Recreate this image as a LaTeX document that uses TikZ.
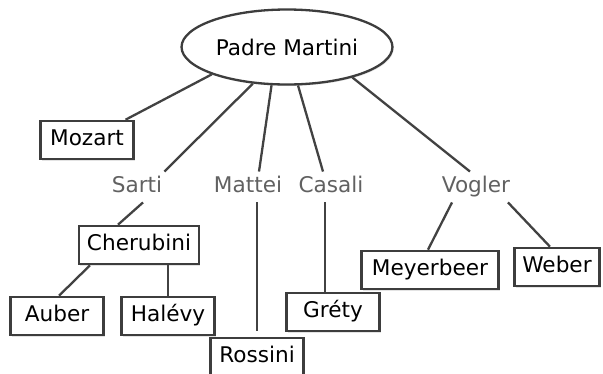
\documentclass[tikz,border=0pt]{standalone}
\usepackage{fontspec}
\setmainfont{DejaVu Sans}
\usetikzlibrary{shapes.geometric,shadows}

\begin{document}
\begin{tikzpicture}[
  x=1pt, y=-1pt,
  font=\fontsize{21.6}{25}\selectfont,
  composer/.style={rectangle, draw=black!76, line width=2.6pt, fill=white, text=black,
    minimum width=93pt, minimum height=38pt, inner xsep=8pt, inner ysep=0pt,
    text height=16pt, text depth=4.5pt,
    drop shadow={shadow xshift=1.2pt, shadow yshift=-1.5pt, opacity=0.22}},
  teacher/.style={inner xsep=2pt, inner ysep=5pt, text height=16pt, text depth=4.5pt, text=black!62},
  link/.style={draw=black!74, line width=2.3pt},
]
  \useasboundingbox (0,0) rectangle (603,373);
  % Root
  \node[ellipse, draw=black!76, line width=2.3pt, fill=white, minimum width=190pt, minimum height=75pt,
    drop shadow={shadow xshift=1.2pt, shadow yshift=-1.5pt, opacity=0.22}] (PM) at (287,47) {Padre Martini};
  % Pupils of the root
  \node[composer] (Mozart) at (87,140) {Mozart};
  \node[teacher] (Sarti)  at (137,187) {Sarti};
  \node[teacher] (Mattei) at (248,187) {Mattei};
  \node[teacher] (Casali) at (331,187) {Casali};
  \node[teacher] (Vogler) at (476,187) {Vogler};
  % Next generation
  \node[composer] (Cherubini) at (139,245) {Cherubini};
  \node[composer] (Auber)     at (57,316)  {Auber};
  \node[composer] (Halevy)    at (168,316) {Halévy};
  \node[composer] (Rossini)   at (257,357) {Rossini};
  \node[composer] (Grety)     at (333,312) {Gréty};
  \node[composer, minimum width=137pt] (Meyerbeer) at (430,270) {Meyerbeer};
  \node[composer, minimum width=84pt]  (Weber)     at (557,267) {Weber};
  % Connections from the root
  \draw[link] (PM.200) -- (Mozart);
  \draw[link] (PM.227) -- (Sarti.north east);
  \draw[link] (PM.248) -- ([xshift=11pt]Mattei.north);
  \draw[link] (PM.286) -- ([xshift=-8pt]Casali.north);
  \draw[link] (PM.335) -- ([xshift=-6pt]Vogler.north);
  % Connections below the teachers
  \draw[link] ([xshift=6pt]Sarti.south) -- ([xshift=-21pt]Cherubini.north);
  \draw[link] ([xshift=-49pt]Cherubini.south) -- ([xshift=2pt]Auber.north);
  \draw[link] (Cherubini.south -| Halevy.north) -- (Halevy.north);
  \draw[link, shorten >=6pt] (Mattei.south -| Rossini.north) -- (Rossini.north);
  \draw[link] ([xshift=-6pt]Casali.south) -- ([xshift=-8pt]Grety.north);
  \draw[link] ([xshift=-24pt]Vogler.south) -- ([xshift=-2pt]Meyerbeer.north);
  \draw[link] ([xshift=32pt]Vogler.south) -- ([xshift=-7pt]Weber.north);
\end{tikzpicture}
\end{document}
